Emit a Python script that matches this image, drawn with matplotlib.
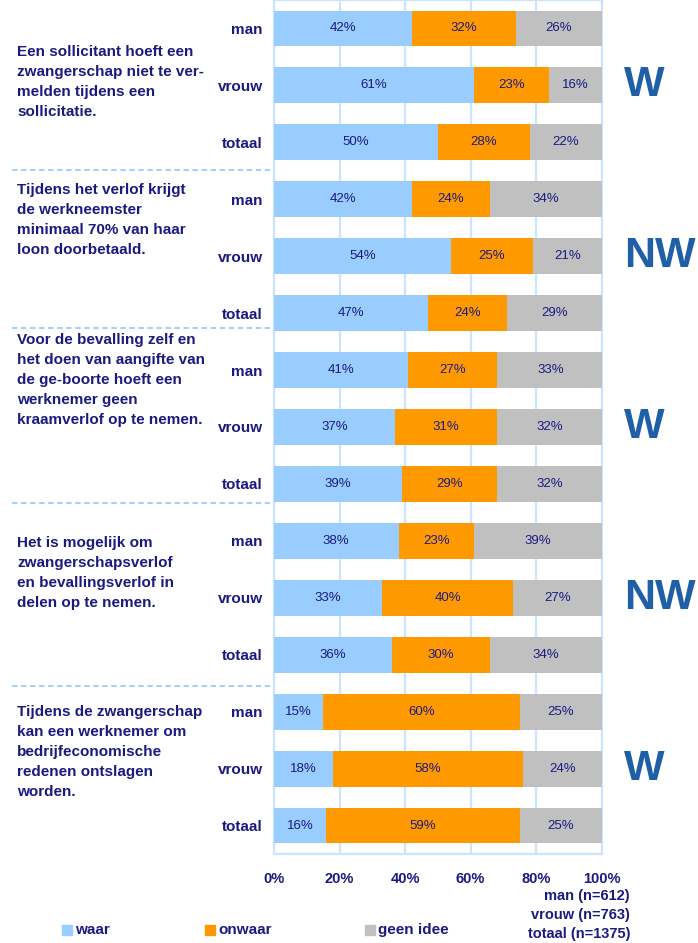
import matplotlib.pyplot as plt
from matplotlib.patches import Rectangle
import numpy as np

plt.rcParams['font.family'] = ['Liberation Sans', 'DejaVu Sans']

# data
statements = [
    ["Een sollicitant hoeft een", "zwangerschap niet te ver-", "melden tijdens een", "sollicitatie."],
    ["Tijdens het verlof krijgt", "de werkneemster", "minimaal 70% van haar", "loon doorbetaald."],
    ["Voor de bevalling zelf en", "het doen van aangifte van", "de ge-boorte hoeft een",
     "werknemer geen", "kraamverlof op te nemen."],
    ["Het is mogelijk om", "zwangerschapsverlof", "en bevallingsverlof in", "delen op te nemen."],
    ["Tijdens de zwangerschap", "kan een werknemer om", "bedrijfeconomische",
     "redenen ontslagen", "worden."],
]
answers = ["W", "NW", "W", "NW", "W"]
groups = ["man", "vrouw", "totaal"]
waar = [42, 61, 50, 42, 54, 47, 41, 37, 39, 38, 33, 36, 15, 18, 16]
onwaar = [32, 23, 28, 24, 25, 24, 27, 31, 29, 23, 40, 30, 60, 58, 59]
geen_idee = [26, 16, 22, 34, 21, 29, 33, 32, 32, 39, 27, 34, 25, 24, 25]
series_names = ["waar", "onwaar", "geen idee"]
n_labels = ["man (n=612)", "vrouw (n=763)", "totaal (n=1375)"]
xticks = [0, 20, 40, 60, 80, 100]

colors = ['#99ccff', '#ff9900', '#c0c0c0']
navy = '#1a1a80'
grid_blue = '#cce5ff'

W, H = 698, 943
fig = plt.figure(figsize=(W / 100, H / 100), dpi=100)
ax = fig.add_axes([274 / W, 1 - 854 / H, 327.7 / W, 854 / H])


def fy(py):
    return 1 - py / H


n_rows = len(waar)
y = np.arange(n_rows)
left = np.zeros(n_rows)
for vals, col, name in zip([waar, onwaar, geen_idee], colors, series_names):
    vals = np.array(vals, dtype=float)
    ax.barh(y, vals, left=left, height=0.63, color=col, label=name, zorder=3)
    for yi, l, v in zip(y, left, vals):
        ax.text(l + v / 2, yi, f"{int(v)}%", ha='center', va='center',
                fontsize=9.5, color=navy, zorder=4)
    left += vals

ax.set_xlim(0, 100)
ax.set_ylim(n_rows - 0.5, -0.5)
ax.set_xticks(xticks)
ax.set_xticklabels([f"{t}%" for t in xticks], fontsize=10.5, fontweight='bold', color=navy)
ax.tick_params(axis='x', length=0, pad=13)
ax.set_yticks(y)
ax.set_yticklabels(groups * len(statements), fontsize=11, fontweight='bold', color=navy)
ax.tick_params(axis='y', length=0, pad=8)
ax.grid(axis='x', color=grid_blue, linewidth=1.6, zorder=0)
for s in ax.spines.values():
    s.set_color(grid_blue)
    s.set_linewidth(1.6)

# statement texts
starts = [52, 190, 340, 543, 712]
for lines, st in zip(statements, starts):
    for i, line in enumerate(lines):
        fig.text(17 / W, fy(st + i * 20), line, ha='left', va='center',
                 fontsize=11, fontweight='bold', color=navy)

# dashed separators
for py in [170, 328, 503, 686]:
    fig.add_artist(plt.Line2D([12 / W, 270 / W], [fy(py), fy(py)], color='#99ccff',
                              linestyle=(0, (3, 2)), linewidth=1.3))

# answers W / NW at the vrouw row of each block
for k, a in enumerate(answers):
    ax.text(1.067, 3 * k + 1, a, transform=ax.get_yaxis_transform(), ha='left', va='center',
            fontsize=31, fontweight='bold', color='#1f5fa8', clip_on=False)

# n labels
for i, t in enumerate(n_labels):
    fig.text(630 / W, fy(896 + i * 19), t, ha='right', va='center',
             fontsize=10.5, fontweight='bold', color=navy)

# legend
leg_x = [62, 205, 365]
for lx, col, name in zip(leg_x, colors, series_names):
    fig.add_artist(Rectangle((lx / W, fy(935)), 10 / W, 10 / H, color=col,
                             transform=fig.transFigure))
    fig.text((lx + 13) / W, fy(930), name, ha='left', va='center',
             fontsize=11, fontweight='bold', color=navy)

fig.savefig('out.png', dpi=100)
